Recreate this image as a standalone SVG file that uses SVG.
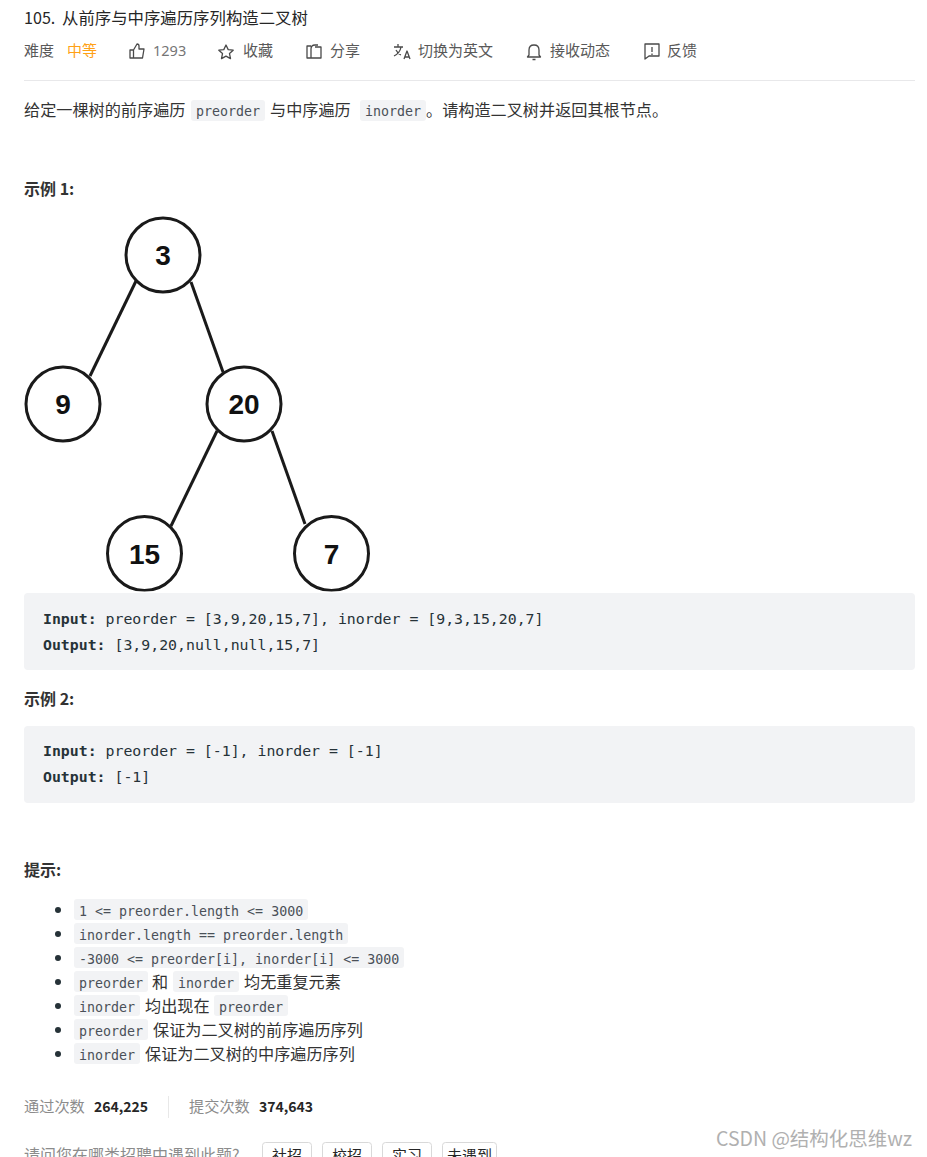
<svg xmlns="http://www.w3.org/2000/svg" width="927" height="1157" viewBox="0 0 927 1157">
<style>
text{font-family:"Noto Sans CJK SC","Noto Sans",sans-serif;fill:#262626}
.t{font-size:16.15px;fill:#333}
.m{font-size:15px;fill:#595959}
.h{font-size:16px;font-weight:700;fill:#333}
.c{font-family:"DejaVu Sans Mono",monospace;font-size:13.3px;fill:#4a5058}
.r{fill:#f2f3f5}
.p{font-family:"DejaVu Sans Mono",monospace;font-size:14.85px;fill:#263238}
.b{font-weight:700}
.g{font-size:15.2px;fill:#8c8c8c}
.n{font-size:14px;font-weight:700;fill:#262626}
.i{fill:none;stroke:#4a4a4a;stroke-width:1.3;stroke-linejoin:round}
.node{fill:#fff;stroke:#1a1a1a;stroke-width:3}
.lab{font-family:"Liberation Sans",sans-serif;font-size:28px;font-weight:700;fill:#111;text-anchor:middle}
.edge{stroke:#1a1a1a;stroke-width:3;fill:none}
.btn{fill:#fff;stroke:#d9d9d9}
.d{fill:#263238}
</style>
<defs><clipPath id="tree"><rect x="0" y="210" width="370" height="381.500"/></clipPath></defs>
<rect width="927" height="1157" fill="#fff"/>
<g id="header">
<text x="24" y="24" class="t" style="fill:#262626">105.</text>
<text x="62" y="24" class="t" style="font-size:16.4px;fill:#262626">从前序与中序遍历序列构造二叉树</text>
<text x="24" y="56" class="m">难度</text>
<text x="67" y="56" class="m" style="fill:#ffa116">中等</text>
<path class="i" d="M130 50h3.500v8h-3.500zM133.500 50l3.500-6q2 0 2 2v3h5l-1.500 9h-9"/>
<text x="153" y="56" class="m" style="font-family:'Noto Sans',sans-serif;font-size:14.5px;fill:#757575">1293</text>
<path class="i" d="M226 45l2.200 4.600 5 .6-3.700 3.400 1 5-4.500-2.500-4.500 2.500 1-5-3.700-3.400 5-.6z"/>
<text x="243" y="56" class="m">收藏</text>
<path class="i" d="M311 46h-4v12h14v-11h-6M311 58v-9q0-4 4-4h3"/>
<text x="330" y="56" class="m">分享</text>
<path class="i" d="M394 47h9M398 44v3M401 47q-1 6-7 9M396 50q2 4 5 5M404 59l3-8 3 8M405 57h4"/>
<text x="418" y="56" class="m">切换为英文</text>
<path class="i" d="M529 55v-5q0-5 5-5t5 5v5l1.500 2h-13zM532.500 59.500h3"/>
<text x="550" y="56" class="m">接收动态</text>
<path class="i" d="M645 44h14v12h-10l-4 3zM652 47v5M652 53.500v1.500"/>
<text x="667" y="56" class="m">反馈</text>
<line x1="24" y1="80.500" x2="915" y2="80.500" stroke="#e8e8ea"/>
</g>
<g id="description">
<text x="24" y="116" class="t">给定一棵树的前序遍历</text>
<rect class="r" x="191" y="100" width="74" height="21" rx="3"/>
<text x="196" y="116" class="c">preorder</text>
<text x="270" y="116" class="t">与中序遍历</text>
<rect class="r" x="360" y="100" width="66" height="21" rx="3"/>
<text x="365" y="116" class="c">inorder</text>
<text x="426" y="116" class="t">。请构造二叉树并返回其根节点。</text>
</g>
<text x="24" y="195" class="h">示例 1:</text>
<g id="connectors">
<line class="edge" x1="136" y1="281" x2="90" y2="376"/>
<line class="edge" x1="191" y1="282" x2="223" y2="372"/>
<line class="edge" x1="217" y1="431" x2="171" y2="526"/>
<line class="edge" x1="272" y1="431" x2="305" y2="524"/>
</g>
<g id="node-3"><circle class="node" cx="163" cy="255" r="37"/><text class="lab" x="163" y="265">3</text></g>
<g id="node-9"><circle class="node" cx="63" cy="404" r="37"/><text class="lab" x="63" y="414">9</text></g>
<g id="node-20"><circle class="node" cx="244" cy="404" r="37"/><text class="lab" x="244" y="414">20</text></g>
<g id="node-15" clip-path="url(#tree)"><circle class="node" cx="144.500" cy="553.500" r="37"/><text class="lab" x="144.500" y="564">15</text></g>
<g id="node-7" clip-path="url(#tree)"><circle class="node" cx="331.500" cy="553.500" r="37"/><text class="lab" x="331.500" y="564">7</text></g>
<g id="example-1">
<rect class="r" x="24" y="593" width="891" height="77" rx="4"/>
<text x="43" y="624" class="p"><tspan class="b">Input:</tspan> preorder = [3,9,20,15,7], inorder = [9,3,15,20,7]</text>
<text x="43" y="650" class="p"><tspan class="b">Output:</tspan> [3,9,20,null,null,15,7]</text>
</g>
<text x="24" y="705" class="h">示例 2:</text>
<g id="example-2">
<rect class="r" x="24" y="726" width="891" height="77" rx="4"/>
<text x="43" y="756" class="p"><tspan class="b">Input:</tspan> preorder = [-1], inorder = [-1]</text>
<text x="43" y="782" class="p"><tspan class="b">Output:</tspan> [-1]</text>
</g>
<text x="24" y="876" class="h">提示:</text>
<g id="hints">
<circle class="d" cx="58" cy="910" r="3"/><circle class="d" cx="58" cy="934" r="3"/><circle class="d" cx="58" cy="958" r="3"/><circle class="d" cx="58" cy="982" r="3"/><circle class="d" cx="58" cy="1006" r="3"/><circle class="d" cx="58" cy="1030" r="3"/><circle class="d" cx="58" cy="1054" r="3"/>
<rect class="r" x="74" y="899" width="234" height="21" rx="3"/>
<text x="79" y="916" class="c">1 &lt;= preorder.length &lt;= 3000</text>
<rect class="r" x="74" y="923" width="274" height="21" rx="3"/>
<text x="79" y="940" class="c">inorder.length == preorder.length</text>
<rect class="r" x="74" y="947" width="330" height="21" rx="3"/>
<text x="79" y="964" class="c">-3000 &lt;= preorder[i], inorder[i] &lt;= 3000</text>
<rect class="r" x="74" y="971" width="74" height="21" rx="3"/>
<text x="79" y="988" class="c">preorder</text>
<text x="152" y="988" class="t">和</text>
<rect class="r" x="173" y="971" width="66" height="21" rx="3"/>
<text x="178" y="988" class="c">inorder</text>
<text x="244" y="988" class="t">均无重复元素</text>
<rect class="r" x="74" y="995" width="66" height="21" rx="3"/>
<text x="79" y="1012" class="c">inorder</text>
<text x="145" y="1012" class="t">均出现在</text>
<rect class="r" x="214" y="995" width="74" height="21" rx="3"/>
<text x="219" y="1012" class="c">preorder</text>
<rect class="r" x="74" y="1019" width="74" height="21" rx="3"/>
<text x="79" y="1036" class="c">preorder</text>
<text x="153" y="1036" class="t">保证为二叉树的前序遍历序列</text>
<rect class="r" x="74" y="1043" width="66" height="21" rx="3"/>
<text x="79" y="1060" class="c">inorder</text>
<text x="145" y="1060" class="t">保证为二叉树的中序遍历序列</text>
</g>
<g id="stats">
<text x="24" y="1112" class="g">通过次数</text>
<text x="94" y="1112" class="n">264,225</text>
<line x1="168.500" y1="1096" x2="168.500" y2="1118" stroke="#e8e8e8"/>
<text x="189" y="1112" class="g">提交次数</text>
<text x="259" y="1112" class="n">374,643</text>
</g>
<g id="survey">
<text x="24" y="1161" class="g" style="font-size:16px">请问您在哪类招聘中遇到此题?</text>
<rect class="btn" x="262.500" y="1142.500" width="49" height="30" rx="3"/><text x="272" y="1161" class="m" style="fill:#262626">社招</text>
<rect class="btn" x="322.500" y="1142.500" width="49" height="30" rx="3"/><text x="332" y="1161" class="m" style="fill:#262626">校招</text>
<rect class="btn" x="382.500" y="1142.500" width="49" height="30" rx="3"/><text x="392" y="1161" class="m" style="fill:#262626">实习</text>
<rect class="btn" x="442.500" y="1142.500" width="54" height="30" rx="3"/><text x="447" y="1161" class="m" style="fill:#262626">未遇到</text>
</g>
<text id="watermark" x="716" y="1146" font-size="19.500" style="fill:#b0b0b0">CSDN @结构化思维wz</text>
</svg>
